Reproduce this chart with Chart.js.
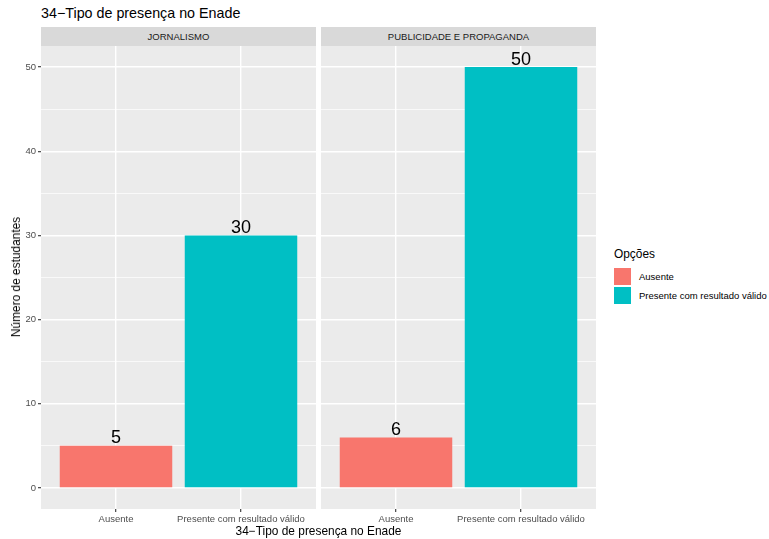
<!DOCTYPE html>
<html>
<head>
<meta charset="utf-8">
<script src="https://cdn.jsdelivr.net/npm/chart.js@4"></script>
<style>
  body { margin: 0; background: #fff; font-family: "Liberation Sans", Arial, sans-serif; }
  #page { position: relative; width: 769px; height: 539px; overflow: hidden; }
  .abs { position: absolute; white-space: nowrap; }
  .strip { background: #D9D9D9; color: #1A1A1A; font-size: 9.5px; text-align: center; height: 19px; line-height: 19px; }
  .key { width: 17px; height: 17px; }
  .keylab { font-size: 9.5px; line-height: 17px; color: #000; }
</style>
</head>
<body>
<div id="page">
  <div class="abs" style="left:41px;top:6px;font-size:14.3px;line-height:14.3px;color:#000">34−Tipo de presença no Enade</div>

  <div id="strip-0" class="abs strip" style="left:41px;top:27px;width:275px"></div>
  <div id="strip-1" class="abs strip" style="left:321px;top:27px;width:275px"></div>

  <canvas id="chart-0" class="abs" width="316" height="484" style="left:0;top:46px"></canvas>
  <canvas id="chart-1" class="abs" width="275" height="484" style="left:321px;top:46px"></canvas>

  <div class="abs" style="left:16px;top:277px;font-size:11.9px;line-height:12px;transform:translate(-50%,-50%) rotate(-90deg)">Número de estudantes</div>
  <div class="abs" style="left:41px;top:526px;width:555px;text-align:center;font-size:11.9px;line-height:11.9px">34−Tipo de presença no Enade</div>

  <div class="abs" style="left:614px;top:249px;font-size:11.9px;line-height:11.9px">Opções</div>
  <div id="legend"></div>
</div>

<script>
// Data
const facets = ["JORNALISMO", "PUBLICIDADE E PROPAGANDA"];
const categories = ["Ausente", "Presente com resultado válido"];
const ausenteValues = [5, 6];
const presenteValues = [30, 50];
const yTicks = [0, 5, 10, 15, 20, 25, 30, 35, 40, 45, 50];
const colors = ["#F8766D", "#00BFC4"];

const FONT = '"Liberation Sans", Arial, sans-serif';

const panelBg = {
  id: "panelBg",
  beforeDraw(chart) {
    const a = chart.chartArea;
    chart.ctx.save();
    chart.ctx.fillStyle = "#EBEBEB";
    chart.ctx.fillRect(a.left, a.top, a.right - a.left, a.bottom - a.top);
    chart.ctx.restore();
  },
};

const barLabels = {
  id: "barLabels",
  afterDatasetsDraw(chart) {
    const ctx = chart.ctx;
    const ds = chart.data.datasets[0];
    ctx.save();
    ctx.font = `18px ${FONT}`;
    ctx.fillStyle = "#000";
    ctx.textAlign = "center";
    ctx.textBaseline = "alphabetic";
    chart.getDatasetMeta(0).data.forEach((bar, i) => {
      ctx.fillText(String(ds.data[i].y), bar.x, bar.y - 2.5);
    });
    ctx.restore();
  },
};

function isMajor(v) { return v % 10 === 0; }

function buildChart(idx) {
  const showY = idx === 0;
  document.getElementById(`strip-${idx}`).textContent = facets[idx];
  const values = [ausenteValues[idx], presenteValues[idx]];

  return new Chart(document.getElementById(`chart-${idx}`), {
    type: "bar",
    data: {
      datasets: [{
        data: values.map((v, i) => ({ x: i + 1, y: v })),
        backgroundColor: colors,
        categoryPercentage: 1,
        barPercentage: 0.9,
      }],
    },
    options: {
      responsive: false,
      animation: false,
      layout: { padding: 0 },
      plugins: { legend: { display: false }, tooltip: { enabled: false } },
      scales: {
        x: {
          type: "linear",
          min: 0.4,
          max: 2.6,
          bounds: "data",
          offset: false,
          afterBuildTicks: s => { s.ticks = categories.map((c, i) => ({ value: i + 1 })); },
          ticks: {
            callback: v => categories[v - 1],
            font: { family: FONT, size: 9.5 },
            color: "#4D4D4D",
            padding: 2,
            autoSkip: false,
            maxRotation: 0,
          },
          grid: { offset: false, color: "#FFFFFF", lineWidth: 1.4, tickLength: 3, tickColor: "#333333", tickWidth: 1.1 },
          border: { display: false },
          afterFit: s => { s.height = 21; s.paddingLeft = 0; s.paddingRight = 0; },
        },
        y: {
          min: -2.5,
          max: 52.5,
          bounds: "data",
          afterBuildTicks: s => { s.ticks = yTicks.map(v => ({ value: v })); },
          ticks: {
            display: showY,
            callback: v => (isMajor(v) ? v : ""),
            font: { family: FONT, size: 9.5 },
            color: "#4D4D4D",
            padding: 2,
            autoSkip: false,
          },
          grid: {
            color: "#FFFFFF",
            lineWidth: c => (isMajor(c.tick.value) ? 1.4 : 0.7),
            drawTicks: showY,
            tickLength: 3,
            tickWidth: 1.1,
            tickColor: c => (isMajor(c.tick.value) ? "#333333" : "rgba(0,0,0,0)"),
          },
          border: { display: false },
          afterFit: s => {
            s.width = showY ? 41 : 0;
            s.paddingTop = 0;
            s.paddingBottom = 0;
          },
        },
      },
    },
    plugins: [panelBg, barLabels],
  });
}

function renderLegend() {
  const el = document.getElementById("legend");
  el.innerHTML = categories.map((c, i) => `
    <div class="abs key" style="left:614px;top:${268 + i * 18.5}px;background:${colors[i]}"></div>
    <div class="abs keylab" style="left:639px;top:${268 + i * 18.5}px">${c}</div>`).join("");
}

// Init
facets.forEach((f, i) => buildChart(i));
renderLegend();
</script>
</body>
</html>
